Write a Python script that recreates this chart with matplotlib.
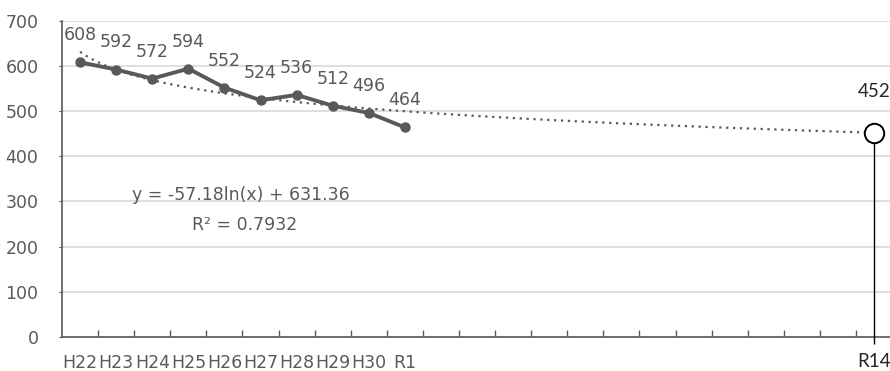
"""
Line chart with log trendline projected out to R14.
"""
import matplotlib
matplotlib.use("Agg")
import matplotlib.pyplot as plt
import numpy as np

# ── Data ──────────────────────────────────────────────────────────────────────
CATEGORIES = ["H22", "H23", "H24", "H25", "H26", "H27", "H28", "H29", "H30",
              "R1", "R2", "R3", "R4", "R5", "R6", "R7", "R8", "R9", "R10",
              "R11", "R12", "R13", "R14"]
TICK_LABELS = ["H22", "H23", "H24", "H25", "H26", "H27", "H28", "H29", "H30",
               "R1", "", "", "", "", "", "", "", "", "", "", "", "", ""]
VALUES = [608, 592, 572, 594, 552, 524, 536, 512, 496, 464]
FORECAST_LABEL = "R14"
FORECAST_VALUE = 452
EQUATION = "y = -57.18ln(x) + 631.36"
R_SQUARED = "R² = 0.7932"

# ── Colours ───────────────────────────────────────────────────────────────────
GREY = "#595959"
GRID = "#D9D9D9"
FS = 12.5

fig = plt.figure(figsize=(8.9, 3.71), dpi=100)
ax = fig.add_axes([0.0697, 0.0916, 1.0024 - 0.0697, 0.944 - 0.0916])

x_all = np.arange(len(CATEGORIES))
x_obs = x_all[:len(VALUES)]

# log trendline (Excel style, x = 1..n)
slope, intercept = np.polyfit(np.log(x_obs + 1), VALUES, 1)
xt = np.linspace(1, len(CATEGORIES), 300)
ax.plot(xt - 1, slope * np.log(xt) + intercept, color=GREY, lw=1.6,
        linestyle=(0, (1, 2.1)), zorder=3)

# observed series
ax.plot(x_obs, VALUES, color=GREY, lw=2.8, marker="o", markersize=6.5,
        zorder=4)
for xi, v in zip(x_obs, VALUES):
    ax.annotate(str(v), (xi, v), xytext=(0, 19.5), textcoords="offset points",
                ha="center", va="center", fontsize=FS, color=GREY)

# forecast point with drop line
xf = CATEGORIES.index(FORECAST_LABEL)
ax.vlines(xf, -15, FORECAST_VALUE, color="black", lw=1.0, zorder=4,
          clip_on=False)
ax.plot([xf], [FORECAST_VALUE], marker="o", markersize=14, mfc="white",
        mec="black", mew=1.4, zorder=5, clip_on=False)
ax.annotate(str(FORECAST_VALUE), (xf, FORECAST_VALUE), xytext=(0, 29.5),
            textcoords="offset points", ha="center", va="center",
            fontsize=13.5, color="#262626", family="Lato")

# trendline equation
ax.text(4.45, 314, EQUATION, ha="center", va="center", fontsize=FS,
        color=GREY)
ax.text(4.55, 248, R_SQUARED, ha="center", va="center", fontsize=FS,
        color=GREY)

# ── Axes ──────────────────────────────────────────────────────────────────────
ax.set_xlim(-0.5, len(CATEGORIES) - 0.5)
ax.set_ylim(0, 700)
ax.set_yticks(range(0, 701, 100))
ax.yaxis.grid(True, color=GRID, lw=1.2)
ax.set_axisbelow(True)

ax.set_xticks(x_all)
ax.set_xticklabels(TICK_LABELS, fontsize=FS, color=GREY)
ax.set_xticks(np.arange(0.5, len(CATEGORIES) - 0.5), minor=True)
ax.tick_params(axis="x", which="major", length=0, pad=12)
ax.tick_params(axis="x", which="minor", direction="in", length=5,
               color=GREY, width=1)
ax.tick_params(axis="y", length=2, color=GREY, labelsize=FS,
               labelcolor=GREY, pad=15)

# R14 label drawn in a different face like the source
ax.text(xf, -0.077, FORECAST_LABEL, transform=ax.get_xaxis_transform(),
        ha="center", va="center", fontsize=13.5, color="#262626",
        family="Lato")

for side in ("top", "right"):
    ax.spines[side].set_visible(False)
ax.spines["left"].set_color(GREY)
ax.spines["bottom"].set_color(GREY)
ax.spines["left"].set_linewidth(1.2)
ax.spines["bottom"].set_linewidth(1.2)

fig.savefig("out.png", dpi=100)
